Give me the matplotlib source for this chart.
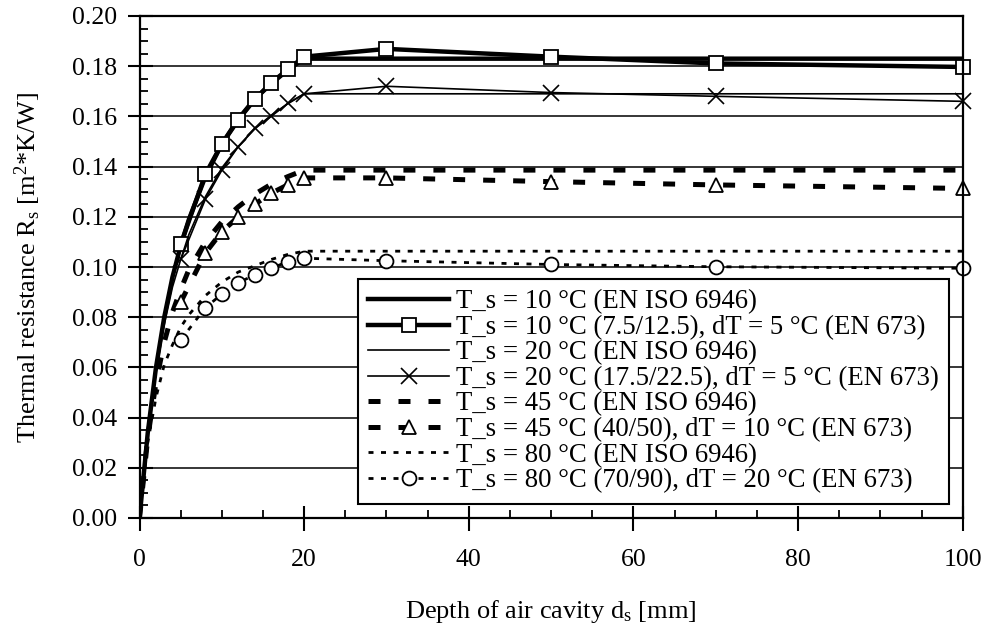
import matplotlib
matplotlib.use("Agg")
import matplotlib.pyplot as plt
from matplotlib.ticker import MultipleLocator, FormatStrFormatter

plt.rcParams['font.family'] = 'Liberation Serif'
plt.rcParams['mathtext.fontset'] = 'custom'
plt.rcParams['mathtext.rm'] = 'Liberation Serif'
plt.rcParams['mathtext.it'] = 'Liberation Serif:italic'

# EN ISO 6946 curves (depth in mm, R in m2K/W)
x_iso = [0, 1, 2, 3, 4, 5, 6, 8, 10, 12, 14, 16, 18, 20, 100]
r_iso10 = [0, 0.034, 0.060, 0.080, 0.096, 0.1085, 0.119, 0.136, 0.149, 0.159, 0.167, 0.173, 0.1785, 0.183, 0.183]
r_iso20 = [0, 0.034, 0.058, 0.077, 0.092, 0.103, 0.113, 0.128, 0.1395, 0.148, 0.155, 0.1605, 0.165, 0.169, 0.169]
r_iso45 = [0, 0.032, 0.054, 0.070, 0.082, 0.091, 0.099, 0.110, 0.118, 0.124, 0.129, 0.133, 0.136, 0.1386, 0.1386]
r_iso80 = [0, 0.030, 0.048, 0.061, 0.069, 0.076, 0.081, 0.0886, 0.094, 0.098, 0.1005, 0.103, 0.105, 0.1063, 0.1063]

# EN 673 measurements
x_en = [5, 8, 10, 12, 14, 16, 18, 20, 30, 50, 70, 100]
r_en10 = [0.109, 0.137, 0.149, 0.1586, 0.1668, 0.1734, 0.1787, 0.1838, 0.1869, 0.1838, 0.1811, 0.1797]
r_en20 = [0.103, 0.127, 0.1386, 0.148, 0.1553, 0.160, 0.1652, 0.169, 0.172, 0.1695, 0.168, 0.166]
r_en45 = [0.086, 0.1056, 0.1141, 0.120, 0.125, 0.1294, 0.1327, 0.1355, 0.1355, 0.134, 0.1327, 0.1313]
r_en80 = [0.0709, 0.0838, 0.0892, 0.0938, 0.0968, 0.0995, 0.1021, 0.1035, 0.1025, 0.101, 0.1001, 0.0995]

labels = ["T_s = 10 °C (EN ISO 6946)",
          "T_s = 10 °C (7.5/12.5), dT = 5 °C (EN 673)",
          "T_s = 20 °C (EN ISO 6946)",
          "T_s = 20 °C (17.5/22.5), dT = 5 °C (EN 673)",
          "T_s = 45 °C (EN ISO 6946)",
          "T_s = 45 °C (40/50), dT = 10 °C (EN 673)",
          "T_s = 80 °C (EN ISO 6946)",
          "T_s = 80 °C (70/90), dT = 20 °C (EN 673)"]

fig = plt.figure(figsize=(9.84, 6.25), dpi=100)
ax = fig.add_axes([0.1418, 0.1712, 0.8366, 0.8032])

dash45 = (2.4, 3.6)
dot80 = (1.8, 2.7)
mk = dict(markerfacecolor='white', markeredgecolor='black', markersize=10,
          markeredgewidth=1.3, clip_on=False)

ax.plot(x_iso, r_iso10, color='black', lw=3.2, label=labels[0])
ax.plot(x_en, r_en10, color='black', lw=3.2, marker='s', label=labels[1], **mk)
ax.plot(x_iso, r_iso20, color='black', lw=1.2, label=labels[2])
ax.plot(x_en, r_en20, color='black', lw=1.2, marker='x', markersize=11,
        markeredgewidth=1.2, clip_on=False, label=labels[3])
ax.plot(x_iso, r_iso45, color='black', lw=3.6, dashes=dash45, label=labels[4])
ax.plot(x_en, r_en45, color='black', lw=3.6, dashes=dash45, marker='^', label=labels[5], **mk)
ax.plot(x_iso, r_iso80, color='black', lw=2.0, dashes=dot80, label=labels[6])
ax.plot(x_en, r_en80, color='black', lw=2.0, dashes=dot80, marker='o', label=labels[7], **mk)

ax.set_xlim(0, 100)
ax.set_ylim(0, 0.20)
ax.xaxis.set_major_locator(MultipleLocator(20))
ax.xaxis.set_minor_locator(MultipleLocator(5))
ax.yaxis.set_major_locator(MultipleLocator(0.02))
ax.yaxis.set_minor_locator(MultipleLocator(0.005))
ax.yaxis.set_major_formatter(FormatStrFormatter('%.2f'))
ax.grid(axis='y', which='major', color='black', lw=1.1)
ax.set_axisbelow(True)

ax.tick_params(which='major', direction='inout', length=18, width=1.5, labelsize=18.5)
ax.tick_params(axis='x', which='major', pad=13.5)
ax.tick_params(axis='y', which='major', pad=7)
ax.tick_params(which='minor', direction='in', length=6, width=1.3)
for s in ax.spines.values():
    s.set_linewidth(1.6)

ax.set_xlabel(r'Depth of air cavity d$_\mathrm{s}$ [mm]', fontsize=19, labelpad=19)
ax.set_ylabel(r'Thermal resistance R$_\mathrm{s}$ [m$^\mathrm{2}$*K/W]', fontsize=19, labelpad=21)

leg = ax.legend(loc='lower right', bbox_to_anchor=(0.9834, 0.0279), fontsize=19.3,
                frameon=True, fancybox=False, framealpha=1, edgecolor='black',
                handlelength=3.0, handletextpad=0.25, labelspacing=0.02,
                borderpad=0.4, borderaxespad=0)
leg.get_frame().set_linewidth(1.5)

fig.savefig('out.png', dpi=100)
